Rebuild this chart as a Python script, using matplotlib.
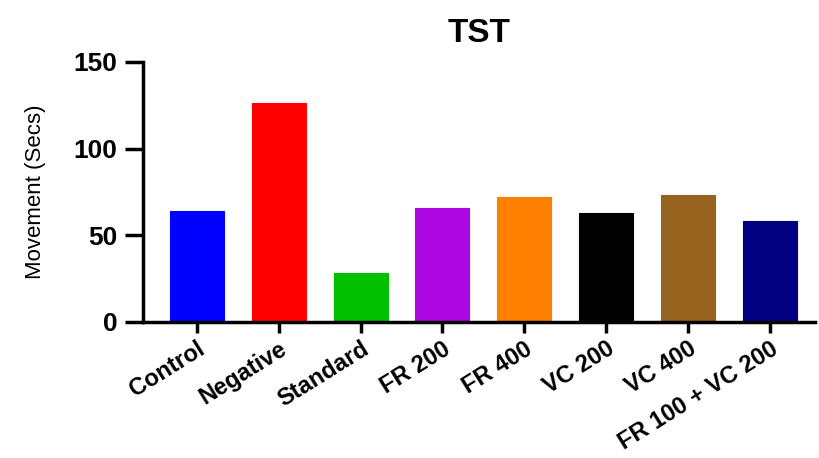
import matplotlib
matplotlib.use("Agg")
import matplotlib.pyplot as plt
import numpy as np

groups = ["Control", "Negative", "Standard", "FR 200", "FR 400", "VC 200", "VC 400", "FR 100 + VC 200"]
movement = [64, 126, 28, 66, 72, 63, 73, 58]
colors = ["#0000FF", "#FF0000", "#00C000", "#AC07E2", "#FF8000", "#000000", "#976420", "#000080"]
yticks = [0, 50, 100, 150]

plt.rcParams["font.family"] = ["Liberation Sans", "DejaVu Sans"]

fig = plt.figure(figsize=(8.2, 4.58), dpi=100)
ax = fig.add_axes([0.174, 0.297, 0.82, 0.568])

x = np.arange(len(groups))
ax.bar(x, movement, width=0.66, color=colors, edgecolor=colors, linewidth=0.8)

ax.set_xlim(-0.66, 7.55)
ax.set_ylim(0, 150)
ax.set_yticks(yticks)
ax.set_yticklabels([str(t) for t in yticks], fontsize=19, fontweight="bold")
ax.set_xticks(x)
ax.set_xticklabels(groups, rotation=32, ha="right", rotation_mode="anchor",
                   fontsize=17, fontweight="bold")
ax.set_ylabel("Movement (Secs)", fontsize=16, labelpad=20)
ax.set_title("TST", fontsize=24, fontweight="bold", pad=14)

for s in ["top", "right"]:
    ax.spines[s].set_visible(False)
for s in ["left", "bottom"]:
    ax.spines[s].set_linewidth(2.5)
ax.tick_params(axis="y", width=2.5, length=13, pad=5)
ax.tick_params(axis="x", width=2.5, length=8, pad=3)

fig.savefig("out.png", dpi=100)
